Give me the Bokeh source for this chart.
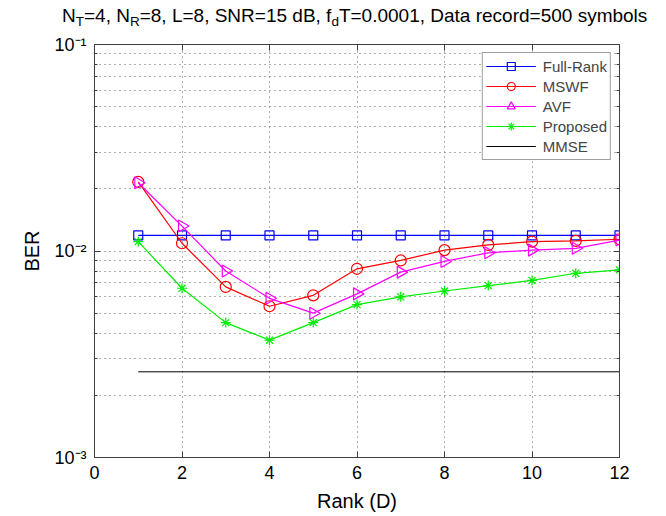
import numpy as np
from bokeh.plotting import figure
from bokeh.layouts import column
from bokeh.models import (Range1d, LogAxis, LinearAxis, FixedTicker, Div,
                          CustomJSTickFormatter, Legend, LegendItem)
from bokeh.embed import file_html
from bokeh.resources import INLINE

# ---------------- data ----------------
rank = [1, 2, 3, 4, 5, 6, 7, 8, 9, 10, 11, 12]
full_rank = [0.0119, 0.0119, 0.0119, 0.0119, 0.0119, 0.0119,
             0.0119, 0.0119, 0.0119, 0.0119, 0.0119, 0.0119]
mswf = [0.0216, 0.0109, 0.0067, 0.0054, 0.0061, 0.0082,
        0.0090, 0.0101, 0.0107, 0.0111, 0.0112, 0.0114]
avf = [0.0214, 0.0132, 0.0080, 0.0059, 0.0050, 0.0062,
       0.0079, 0.0089, 0.0098, 0.0101, 0.0103, 0.0113]
proposed = [0.0111, 0.0066, 0.0045, 0.0037, 0.0045, 0.0055,
            0.0060, 0.0064, 0.0068, 0.0072, 0.0078, 0.0081]
mmse_x = [1, 12]
mmse_y = [0.0026, 0.0026]
x_ticks = [0, 2, 4, 6, 8, 10, 12]
y_ticks = [0.001, 0.01, 0.1]
y_minor_ticks = [0.002, 0.003, 0.004, 0.005, 0.006, 0.007, 0.008, 0.009,
                 0.02, 0.03, 0.04, 0.05, 0.06, 0.07, 0.08, 0.09]
title_html = ("N<sub>T</sub>=4, N<sub>R</sub>=8, L=8, SNR=15 dB, "
              "f<sub>d</sub>T=0.0001, Data record=500 symbols")

FONT = "Liberation Sans"
AX = "#404040"
GRID = "#606060"
TITLE_H = 30

p = figure(frame_width=525, frame_height=413, y_axis_type="log",
           x_range=Range1d(0, 12), y_range=Range1d(1e-3, 1e-1),
           output_backend="svg", toolbar_location=None,
           min_border_left=94, min_border_right=39, min_border_top=14,
           min_border_bottom=59, background_fill_color="white",
           border_fill_color="white")
p.outline_line_color = AX
p.outline_line_width = 1

sup = CustomJSTickFormatter(code="""
const m = {'-':'\u207b','0':'\u2070','1':'\u00b9','2':'\u00b2','3':'\u00b3','4':'\u2074',
           '5':'\u2075','6':'\u2076','7':'\u2077','8':'\u2078','9':'\u2079'};
const e = String(Math.round(Math.log10(tick)));
let s = '';
for (const c of e) { s += m[c]; }
return '10' + s;
""")
blank = CustomJSTickFormatter(code="return '';")

xtick = FixedTicker(ticks=x_ticks)
ytick = FixedTicker(ticks=y_ticks, minor_ticks=y_minor_ticks)

xa = p.xaxis[0]
xa.ticker = xtick
xa.axis_label = "Rank (D)"
ya = p.yaxis[0]
ya.ticker = ytick
ya.formatter = sup
ya.axis_label = "BER"

for ax in (xa, ya):
    ax.axis_line_color = AX
    ax.major_tick_line_color = AX
    ax.minor_tick_line_color = AX
    ax.major_tick_in = 6
    ax.major_tick_out = 0
    ax.minor_tick_in = 3
    ax.minor_tick_out = 0
    ax.major_label_text_font = FONT
    ax.major_label_text_font_size = "18px"
    ax.major_label_text_color = "black"
    ax.axis_label_text_font = FONT
    ax.axis_label_text_font_size = "20px"
    ax.axis_label_text_font_style = "normal"
    ax.axis_label_text_color = "black"
    ax.major_label_standoff = 8
xa.minor_tick_line_color = None
xa.axis_label_standoff = 8
ya.axis_label_standoff = 8

top = LinearAxis(ticker=xtick, formatter=blank, major_label_standoff=0,
                 axis_line_color=AX, major_tick_line_color=AX, major_tick_in=6,
                 major_tick_out=0, minor_tick_line_color=None)
right = LogAxis(ticker=ytick, formatter=blank, major_label_standoff=0,
                axis_line_color=AX, major_tick_line_color=AX,
                minor_tick_line_color=AX, major_tick_in=6, major_tick_out=0,
                minor_tick_in=3, minor_tick_out=0)
p.add_layout(top, "above")
p.add_layout(right, "right")

p.xgrid.ticker = xtick
p.xgrid.grid_line_color = GRID
p.xgrid.grid_line_dash = "1 4"
p.ygrid.ticker = ytick
p.ygrid.grid_line_color = GRID
p.ygrid.grid_line_dash = "1 4"
p.ygrid.minor_grid_line_color = GRID
p.ygrid.minor_grid_line_dash = "1 4"

LW = 1.2
r1l = p.line(rank, full_rank, line_color="#0000ff", line_width=LW)
r1m = p.scatter(rank, full_rank, marker="square", size=9, fill_color=None,
                line_color="#0000ff", line_width=LW)
r2l = p.line(rank, mswf, line_color="#ff0000", line_width=LW)
r2m = p.scatter(rank, mswf, marker="circle", size=11, fill_color=None,
                line_color="#ff0000", line_width=LW)
r3l = p.line(rank, avf, line_color="#ff00ff", line_width=LW)
r3m = p.scatter(rank, avf, marker="triangle", angle=-np.pi / 2, size=12,
                fill_color=None, line_color="#ff00ff", line_width=LW)
r4l = p.line(rank, proposed, line_color="#00ee00", line_width=LW)
r4m = p.scatter(rank, proposed, marker="asterisk", size=10,
                line_color="#00ee00", line_width=LW)
r5l = p.line(mmse_x, mmse_y, line_color="black", line_width=1)

legend = Legend(items=[
    LegendItem(label="Full-Rank", renderers=[r1l, r1m]),
    LegendItem(label="MSWF", renderers=[r2l, r2m]),
    LegendItem(label="AVF", renderers=[r3l, r3m]),
    LegendItem(label="Proposed", renderers=[r4l, r4m]),
    LegendItem(label="MMSE", renderers=[r5l]),
], location="top_right")
legend.label_text_font = FONT
legend.label_text_font_size = "15px"
legend.label_height = 20
legend.glyph_height = 20
legend.glyph_width = 50
legend.spacing = 0
legend.padding = 3
legend.margin = 8
legend.label_standoff = 7
legend.border_line_color = AX
legend.border_line_width = 1
legend.background_fill_alpha = 1
p.add_layout(legend, "center")

# ---------------- title strip (HTML, for the sub-scripts) ----------------
TW = 525 + 94 + 39
title = Div(
    text=('<div style="font-family:\'Liberation Sans\',Arial,sans-serif;font-size:19px;'
          'line-height:22px;white-space:nowrap;padding-left:62px;padding-top:5px;'
          'color:black">' + title_html.replace(
              "<sub>", '<sub style="font-size:13.5px;vertical-align:-4px;line-height:0">') +
          '</div>'),
    width=TW, height=TITLE_H, margin=0)

layout = column(title, p, spacing=0)
open("out.html", "w").write(file_html(layout, INLINE))
